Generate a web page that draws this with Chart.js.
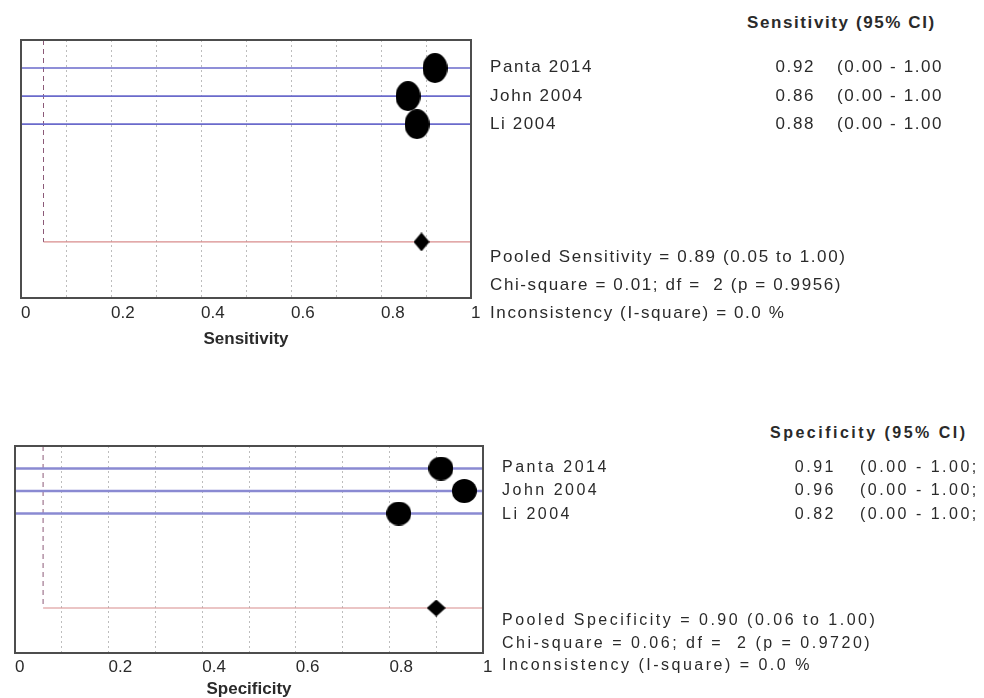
<!DOCTYPE html>
<html>
<head>
<meta charset="utf-8">
<script src="https://cdn.jsdelivr.net/npm/chart.js@4.4.1/dist/chart.umd.min.js"></script>
<style>
  body { margin: 0; background: #fff; width: 984px; height: 698px; position: relative; overflow: hidden;
         font-family: "Liberation Sans", Arial, sans-serif; color: #2a2a2a; }
  canvas { position: absolute; left: 0; }
  .t { position: absolute; white-space: pre; }
</style>
</head>
<body>
<canvas id="sens" width="500" height="350" style="top:0"></canvas>
<canvas id="spec" width="510" height="288" style="top:410px"></canvas>
<script>
// study data
const studies = ['Panta 2014', 'John 2004', 'Li 2004'];
const sensitivity = [0.92, 0.86, 0.88];
const sensLow = [0.00, 0.00, 0.00];
const sensHigh = [1.00, 1.00, 1.00];
const sensPooled = [0.89, 0.05, 1.00];   // estimate, lower, upper
const sensStats = ['Chi-square = 0.01; df =  2 (p = 0.9956)', 'Inconsistency (I-square) = 0.0 %'];

const specificity = [0.91, 0.96, 0.82];
const specLow = [0.00, 0.00, 0.00];
const specHigh = [1.00, 1.00, 1.00];
const specPooled = [0.90, 0.06, 1.00];
const specStats = ['Chi-square = 0.06; df =  2 (p = 0.9720)', 'Inconsistency (I-square) = 0.0 %'];

const xTickLabels = ['0', '0.2', '0.4', '0.6', '0.8', '1'];

function shape(w, h, kind) {
  const c = document.createElement('canvas');
  c.width = w; c.height = h;
  const g = c.getContext('2d');
  g.fillStyle = '#000';
  g.beginPath();
  if (kind === 'ellipse') {
    g.ellipse(w / 2, h / 2, w / 2, h / 2, 0, 0, Math.PI * 2);
  } else {
    g.moveTo(w / 2, 0); g.lineTo(w, h / 2); g.lineTo(w / 2, h); g.lineTo(0, h / 2);
  }
  g.fill();
  return c;
}

const frame = {
  id: 'frame',
  afterDatasetsDraw(chart) {
    const { ctx, chartArea: a } = chart;
    ctx.save();
    ctx.strokeStyle = '#4d4d4d';
    ctx.lineWidth = 2;
    ctx.strokeRect(a.left, a.top, a.right - a.left, a.bottom - a.top);
    ctx.restore();
  }
};

function makePlot(id, values, lows, highs, pooled, o) {
  const canvas = document.getElementById(id);
  const rows = values.map((v, i) => i + 1);
  const datasets = [];
  values.forEach((v, i) => {
    datasets.push({
      data: [{ x: lows[i], y: rows[i] }, { x: highs[i], y: rows[i] }],
      showLine: true, borderColor: o.ciColor, borderWidth: o.ciWidth, pointRadius: 0, order: 2
    });
  });
  datasets.push({
    data: [{ x: pooled[1], y: 0 }, { x: pooled[1], y: o.pooledRow }],
    showLine: true, borderColor: '#8c5a78', borderWidth: 1, borderDash: [5, 4], pointRadius: 0, order: 2
  });
  datasets.push({
    data: [{ x: pooled[1], y: o.pooledRow }, { x: pooled[2], y: o.pooledRow }],
    showLine: true, borderColor: '#d88c8c', borderWidth: 1.2, pointRadius: 0, order: 2
  });
  datasets.push({
    data: values.map((v, i) => ({ x: v, y: rows[i] })),
    pointStyle: shape(o.dot[0], o.dot[1], 'ellipse'), order: 0
  });
  datasets.push({
    data: [{ x: pooled[0], y: o.pooledRow }],
    pointStyle: shape(o.diamond[0], o.diamond[1], 'diamond'), order: 0
  });

  return new Chart(canvas, {
    type: 'scatter',
    data: { datasets },
    options: {
      responsive: false,
      animation: false,
      layout: { padding: { left: o.left, right: canvas.width - o.right, top: o.top, bottom: 0 } },
      plugins: { legend: { display: false }, tooltip: { enabled: false } },
      scales: {
        x: {
          min: 0, max: 1,
          afterFit(s) { s.height = o.axisH; },
          border: { display: false, dash: [2, 3] },
          grid: { color: '#bdbdbd', lineWidth: 1, drawTicks: false },
          ticks: {
            stepSize: 0.1, autoSkip: false, maxRotation: 0, padding: o.tickPad, align: 'start',
            color: '#2a2a2a', font: { size: 17, family: '"Liberation Sans", Arial, sans-serif' },
            callback(v) {
              const k = Math.round(v * 10);
              return k % 2 === 0 ? xTickLabels[k / 2] : '';
            }
          },
          title: {
            display: true, text: o.title, color: '#2a2a2a', padding: { top: 0, bottom: o.titlePad },
            font: { size: 17, weight: 'bold', lineHeight: 1, family: '"Liberation Sans", Arial, sans-serif' }
          }
        },
        y: { min: 0, max: o.rowMax, reverse: true, display: false }
      }
    },
    plugins: [frame]
  });
}

function addText(x, yc, str, css, width, align) {
  const d = document.createElement('div');
  d.className = 't';
  d.textContent = str;
  d.style.cssText += css;
  d.style.left = x + 'px';
  d.style.top = (yc - 12) + 'px';
  d.style.lineHeight = '24px';
  if (width) { d.style.width = width + 'px'; d.style.textAlign = align; }
  document.body.appendChild(d);
}

function sidePanel(header, values, lows, highs, pooledLabel, pooled, stats, p) {
  addText(p.headerX, p.headerY, header, p.font + 'font-weight:bold;');
  studies.forEach((s, i) => {
    addText(p.nameX, p.rowY[i], s, p.font);
    addText(p.valX - 80, p.rowY[i], values[i].toFixed(2), p.font, 80, 'right');
    addText(p.ciX, p.rowY[i], '(' + lows[i].toFixed(2) + ' - ' + highs[i].toFixed(2) + p.ciEnd, p.font);
  });
  const lines = [pooledLabel + ' = ' + pooled[0].toFixed(2) + ' (' + pooled[1].toFixed(2) + ' to ' + pooled[2].toFixed(2) + ')']
    .concat(stats);
  lines.forEach((l, i) => addText(p.nameX, p.statY + i * p.statGap, l, p.font));
}

makePlot('sens', sensitivity, sensLow, sensHigh, sensPooled, {
  left: 21, right: 471, top: 40, axisH: 52, rowMax: 9.2, pooledRow: 7.2,
  tickPad: 5, titlePad: 2, title: 'Sensitivity',
  ciColor: '#6a6acb', ciWidth: 1.6, dot: [25, 30], diamond: [16, 19]
});
makePlot('spec', specificity, specLow, specHigh, specPooled, {
  left: 15, right: 483, top: 36, axisH: 45, rowMax: 9.2, pooledRow: 7.2,
  tickPad: 4, titlePad: 0, title: 'Specificity',
  ciColor: '#8a8ad2', ciWidth: 2.5, dot: [25, 24], diamond: [19, 17]
});

sidePanel('Sensitivity (95% CI)', sensitivity, sensLow, sensHigh, 'Pooled Sensitivity', sensPooled, sensStats, {
  font: 'font-size:17px;letter-spacing:1.6px;', headerX: 747, headerY: 23,
  nameX: 490, valX: 815, ciX: 837, ciEnd: '', rowY: [67, 96, 124], statY: 257, statGap: 28
});
sidePanel('Specificity (95% CI)', specificity, specLow, specHigh, 'Pooled Specificity', specPooled, specStats, {
  font: 'font-size:16px;letter-spacing:2.5px;', headerX: 770, headerY: 433,
  nameX: 502, valX: 836, ciX: 860, ciEnd: ';', rowY: [467, 490, 514], statY: 620, statGap: 22.5
});
</script>
</body>
</html>
